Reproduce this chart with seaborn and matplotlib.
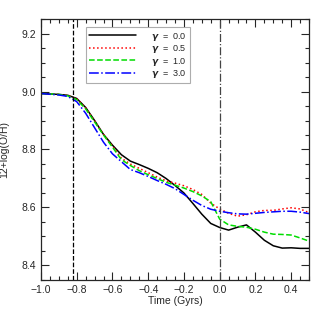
import numpy as np
import pandas as pd
import seaborn as sns
import matplotlib
matplotlib.use("Agg")
import matplotlib.pyplot as plt
from matplotlib.ticker import MultipleLocator

time = [-1.0, -0.9, -0.85, -0.8, -0.75, -0.7, -0.65, -0.6, -0.55, -0.5, -0.45, -0.4,
        -0.35, -0.3, -0.25, -0.2, -0.15, -0.1, -0.05, 0.0, 0.05, 0.1, 0.15, 0.2,
        0.25, 0.3, 0.35, 0.4, 0.45, 0.5]

g00 = [8.993, 8.990, 8.987, 8.976, 8.945, 8.900, 8.852, 8.815, 8.782, 8.760, 8.748, 8.735,
       8.720, 8.700, 8.676, 8.650, 8.614, 8.577, 8.545, 8.531, 8.522, 8.532, 8.540, 8.515,
       8.487, 8.468, 8.460, 8.461, 8.459, 8.459]
g05 = [8.993, 8.990, 8.986, 8.975, 8.943, 8.898, 8.852, 8.812, 8.770, 8.750, 8.735, 8.720,
       8.705, 8.692, 8.684, 8.675, 8.662, 8.645, 8.615, 8.595, 8.580, 8.570, 8.575, 8.585,
       8.590, 8.590, 8.595, 8.599, 8.595, 8.582]
g10 = [8.993, 8.990, 8.985, 8.972, 8.940, 8.895, 8.850, 8.808, 8.765, 8.745, 8.727, 8.713,
       8.700, 8.687, 8.677, 8.667, 8.655, 8.640, 8.620, 8.560, 8.540, 8.535, 8.532, 8.525,
       8.515, 8.508, 8.507, 8.505, 8.495, 8.484]
g30 = [8.993, 8.988, 8.983, 8.965, 8.925, 8.875, 8.825, 8.785, 8.758, 8.731, 8.720, 8.707,
       8.693, 8.680, 8.665, 8.645, 8.625, 8.607, 8.594, 8.587, 8.582, 8.578, 8.577, 8.580,
       8.583, 8.585, 8.587, 8.587, 8.584, 8.579]

labels = [r'$\boldsymbol{\gamma}$  =  0.0', r'$\boldsymbol{\gamma}$  =  0.5',
          r'$\boldsymbol{\gamma}$  =  1.0', r'$\boldsymbol{\gamma}$  =  3.0']
series = [g00, g05, g10, g30]
colors = ['black', 'red', '#00dd00', 'blue']
styles = ['-', ':', '--', '-.']

sns.set_style("ticks")
plt.rcParams['font.family'] = ['Liberation Sans', 'DejaVu Sans']
plt.rcParams['mathtext.fontset'] = 'dejavusans'

fig = plt.figure(figsize=(3.19, 3.19), dpi=100)
ax = fig.add_axes([0.1285, 0.1223, 0.8402, 0.8181])

for lab, ys, c, ls in zip(labels, series, colors, styles):
    df = pd.DataFrame({'t': time, 'oh': ys})
    sns.lineplot(data=df, x='t', y='oh', ax=ax, color=c, linestyle=ls,
                 linewidth=1.1, label=lab)

ax.axvline(-0.82, color='black', linestyle='--', linewidth=0.9)
ax.axvline(0.0, color='#444444', linestyle='-.', linewidth=0.9)

ax.set_xlim(-1.0, 0.5)
ax.set_ylim(8.35, 9.25)
ax.xaxis.set_minor_locator(MultipleLocator(0.05))
ax.yaxis.set_major_locator(MultipleLocator(0.2))
ax.yaxis.set_minor_locator(MultipleLocator(0.05))
ax.tick_params(which='both', direction='in', top=True, right=True, width=0.8, labelsize=7.5)
ax.tick_params(which='major', length=6)
ax.tick_params(which='minor', length=3)
ax.set_xticks([-1.0, -0.8, -0.6, -0.4, -0.2, 0.0, 0.2, 0.4])
ax.set_xticklabels(['\u22121.0', '\u22120.8', '\u22120.6', '\u22120.4', '\u22120.2', '0.0', '0.2', '0.4'])
ax.set_xlim(-1.0, 0.5)
for s in ax.spines.values():
    s.set_linewidth(0.9)

ax.set_xlabel('Time (Gyrs)', fontsize=7.5, labelpad=1)
ax.set_ylabel('12+log(O/H)', fontsize=7.5, labelpad=9)

leg = ax.legend(loc='upper left', bbox_to_anchor=(0.152, 0.985), fontsize=6.5,
                handlelength=5.2, frameon=True, fancybox=False, edgecolor='#999999',
                borderpad=0.35, labelspacing=0.05, handletextpad=1.6)
leg.get_frame().set_linewidth(0.8)

fig.savefig('out.png', dpi=100)
